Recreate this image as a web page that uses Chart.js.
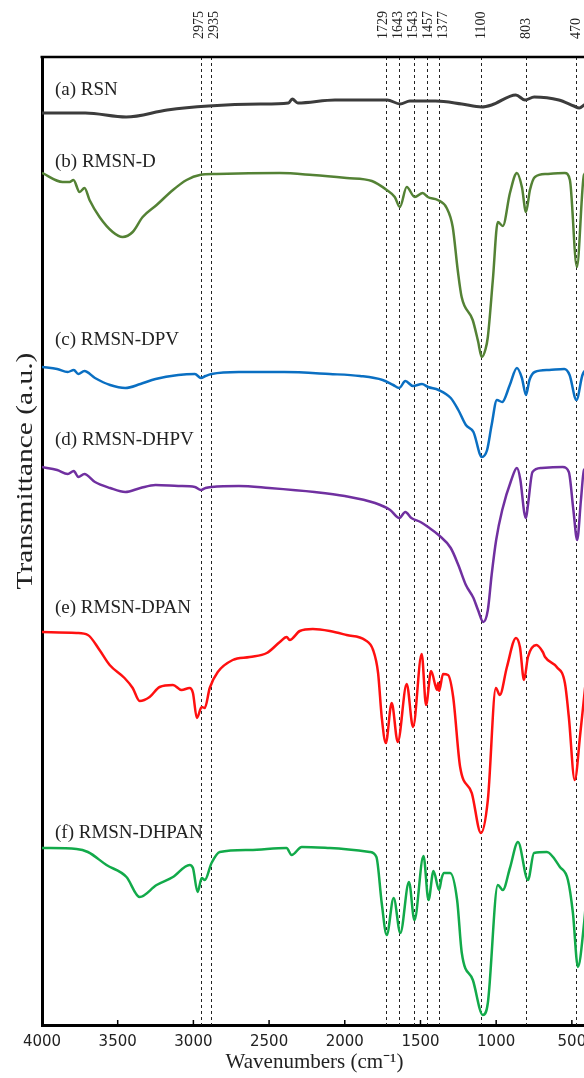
<!DOCTYPE html>
<html><head><meta charset="utf-8">
<script src="https://cdn.jsdelivr.net/npm/chart.js@4"></script>
<style>html,body{margin:0;padding:0;overflow:hidden;background:#fff;width:584px;height:1078px}canvas{display:block}</style>
</head><body>
<canvas id="c" width="600" height="1078"></canvas>
<script>
// wavenumber (cm-1), transmittance (a.u., offset spectra)
const rsn = [[4000,912],[3985,912],[3714,912],[3444,908],[3173,915],[2901,919],[2557,921],[2372,922],[2347,926],[2310,922],[2065,925],[1720,925],[1634,921],[1570,924],[1399,924],[1227,921],[1096,918],[1030,920],[870,930],[809,925],[749,928],[586,925],[487,919],[451,917],[419,920],[400,922]];
const rmsnD = [[4000,852],[3864,843],[3818,843],[3792,845],[3752,833],[3719,837],[3686,825],[3620,808],[3533,793],[3467,788],[3401,793],[3335,808],[3243,820],[3135,835],[3045,845],[2958,850],[2847,851],[2429,852],[2211,850],[1988,847],[1821,844],[1723,835],[1670,828],[1636,818],[1591,838],[1538,828],[1485,832],[1452,828],[1386,825],[1327,817],[1287,798],[1254,755],[1228,728],[1155,705],[1120,684],[1095,668],[1070,676],[1055,688],[1022,745],[989,803],[956,799],[909,832],[863,852],[830,838],[803,813],[777,835],[744,848],[665,851],[546,852],[513,845],[467,758],[420,850],[400,853]];
const rmsnDPV = [[4000,658],[3900,656],[3830,653],[3790,655],[3760,651],[3720,654],[3650,647],[3550,640],[3450,637],[3350,641],[3250,646],[3100,650],[2990,651],[2950,647],[2920,649],[2880,651],[2700,653],[2400,653],[2100,651],[1900,649],[1750,645],[1680,640],[1640,637],[1600,644],[1550,639],[1490,641],[1450,638],[1380,635],[1300,627],[1250,615],[1200,600],[1150,593],[1095,568],[1060,575],[1030,600],[995,625],[960,623],[910,640],[863,657],[830,647],[803,630],[780,645],[745,653],[650,655],[550,656],[515,650],[470,625],[430,650],[400,657]];
const rmsnDHPV = [[4000,558],[3900,555],[3830,551],[3790,554],[3760,548],[3720,551],[3650,543],[3550,537],[3450,533],[3350,537],[3250,540],[3100,539],[2990,538],[2950,535],[2920,537],[2880,538],[2700,539],[2500,537],[2200,533],[2000,529],[1800,522],[1700,515],[1640,507],[1600,513],[1560,507],[1500,503],[1450,498],[1380,490],[1300,477],[1250,460],[1200,440],[1150,427],[1120,415],[1085,403],[1055,415],[1030,450],[1000,485],[960,515],[900,545],[863,557],[840,545],[815,513],[803,507],[790,520],[760,553],[700,557],[560,558],[520,553],[490,515],[465,485],[440,525],[420,555],[400,557]];
const rmsnDPAN = [[4000,393],[3772,392],[3697,390],[3620,375],[3553,360],[3455,347],[3401,337],[3355,324],[3289,328],[3223,338],[3135,340],[3078,335],[3025,337],[3003,332],[2977,307],[2945,318],[2925,317],[2892,337],[2839,353],[2740,365],[2628,368],[2515,372],[2429,383],[2384,388],[2364,385],[2297,394],[2211,396],[2099,394],[1988,390],[1866,385],[1813,375],[1780,352],[1756,308],[1729,282],[1690,322],[1650,283],[1591,341],[1549,298],[1492,371],[1463,320],[1430,354],[1390,335],[1384,342],[1377,334],[1351,351],[1318,350],[1284,328],[1238,258],[1161,232],[1101,192],[1055,225],[1002,337],[976,330],[929,358],[869,387],[843,378],[816,345],[790,368],[734,380],[692,373],[677,368],[600,358],[546,342],[520,308],[481,245],[444,292],[419,328],[400,355]];
const rmsnDHPAN = [[4000,177],[3772,176],[3697,173],[3574,160],[3442,148],[3355,128],[3243,140],[3135,148],[3025,160],[3003,157],[2972,133],[2945,147],[2925,145],[2880,162],[2826,173],[2628,175],[2385,177],[2351,170],[2284,178],[2099,177],[1835,173],[1791,168],[1756,122],[1723,90],[1677,127],[1633,92],[1576,143],[1540,105],[1480,169],[1447,125],[1414,154],[1377,135],[1360,147],[1344,152],[1304,152],[1258,125],[1227,72],[1154,45],[1088,10],[1055,22],[989,140],[956,135],[909,157],[856,183],[790,145],[750,172],[665,173],[579,158],[526,145],[493,112],[460,58],[419,102],[400,135]];

const seriesNames = ['(a) RSN','(b) RMSN-D','(c) RMSN-DPV','(d) RMSN-DHPV','(e) RMSN-DPAN','(f) RMSN-DHPAN'];
const xTicks = [4000,3500,3000,2500,2000,1500,1000,500];
const peakPositions = [2947,2881,1729,1643,1543,1457,1377,1100,803,470];
const peakLabels = ['2975','2935','1729','1643','1543','1457','1377','1100','803','470'];
const yTitle = 'Transmittance (a.u.)';

const colors = ['#3c3c3c','#548235','#0a6fc2','#7030a0','#ff1010','#12aa4a'];
const series = [rsn,rmsnD,rmsnDPV,rmsnDHPV,rmsnDPAN,rmsnDHPAN];
const labelLevels = [935,863,685,585,417,192];

function spreadLabels(pxs, gap){
  const p = pxs.slice();
  for(let k=0;k<60;k++){
    for(let i=1;i<p.length;i++){
      const d=p[i]-p[i-1];
      if(d<gap){ const m=(gap-d)/2; p[i-1]-=m; p[i]+=m; }
    }
  }
  return p;
}

const deco = {
  id:'deco',
  beforeDatasetsDraw(chart){
    const {ctx, chartArea:a, scales:{x}} = chart;
    ctx.save();
    ctx.strokeStyle='#222'; ctx.lineWidth=1; ctx.setLineDash([3,3]);
    peakPositions.forEach(v=>{
      const px=Math.round(x.getPixelForValue(v))+0.5;
      ctx.beginPath(); ctx.moveTo(px,a.top); ctx.lineTo(px,a.bottom); ctx.stroke();
    });
    ctx.restore();
  },
  afterDraw(chart){
    const {ctx, chartArea:a, scales:{x,y}} = chart;
    ctx.save();
    ctx.strokeStyle='#000'; ctx.lineWidth=2.5;
    ctx.beginPath(); ctx.moveTo(a.left-1.5,a.top); ctx.lineTo(a.right,a.top); ctx.stroke();
    ctx.lineWidth=1.5;
    xTicks.forEach(v=>{
      const px=x.getPixelForValue(v);
      ctx.beginPath(); ctx.moveTo(px,a.bottom); ctx.lineTo(px,a.bottom-5); ctx.stroke();
    });
    ctx.fillStyle='#222';
    ctx.font='14px "Liberation Serif", serif';
    ctx.textAlign='left'; ctx.textBaseline='middle';
    const lp = spreadLabels(peakPositions.map(v=>x.getPixelForValue(v)), 15);
    lp.forEach((px,i)=>{
      ctx.save(); ctx.translate(px,a.top-18); ctx.rotate(-Math.PI/2);
      ctx.fillText(peakLabels[i],0,0); ctx.restore();
    });
    ctx.font='19px "Liberation Serif", serif';
    seriesNames.forEach((n,i)=>{
      ctx.fillText(n,a.left+13,y.getPixelForValue(labelLevels[i]));
    });
    // y axis title
    ctx.font='23px "Liberation Serif", serif';
    ctx.textAlign='center'; ctx.textBaseline='alphabetic';
    ctx.save(); ctx.translate(32,471); ctx.rotate(-Math.PI/2); ctx.scale(1.28,1);
    ctx.fillText(yTitle,0,0); ctx.restore();
    ctx.restore();
  }
};

new Chart(document.getElementById('c'),{
  type:'line',
  data:{datasets: series.map((s,i)=>({
    label: seriesNames[i],
    data: s.map(p=>({x:p[0],y:p[1]})),
    borderColor: colors[i], borderWidth: i===0?3:2.5,
    pointRadius:0, fill:false, tension:0.3, cubicInterpolationMode:'monotone'
  }))},
  options:{
    responsive:false, animation:false, devicePixelRatio:1,
    layout:{padding:{top:57,right:13,left:0,bottom:0}},
    plugins:{legend:{display:false},tooltip:{enabled:false}},
    scales:{
      x:{type:'linear',reverse:true,min:400,max:4000,
        afterBuildTicks:s=>{s.ticks=xTicks.map(v=>({value:v}));},
        afterFit:s=>{s.height=53;},
        grid:{display:false,drawTicks:false},
        border:{display:true,color:'#000',width:3},
        ticks:{autoSkip:false,maxRotation:0,padding:8,color:'#222',font:{family:'DejaVu Sans',size:15},callback:v=>String(v)},
        title:{display:true,text:'Wavenumbers (cm\u207B\u00B9)',color:'#222',font:{family:'Liberation Serif',size:21},padding:{top:0,bottom:3}}
      },
      y:{type:'linear',min:0,max:968,
        afterFit:s=>{s.width=42;},
        grid:{display:false,drawTicks:false},
        border:{display:true,color:'#000',width:3},
        ticks:{display:false},
        title:{display:false,text:yTitle}
      }
    }
  },
  plugins:[deco]
});
</script>
</body></html>
